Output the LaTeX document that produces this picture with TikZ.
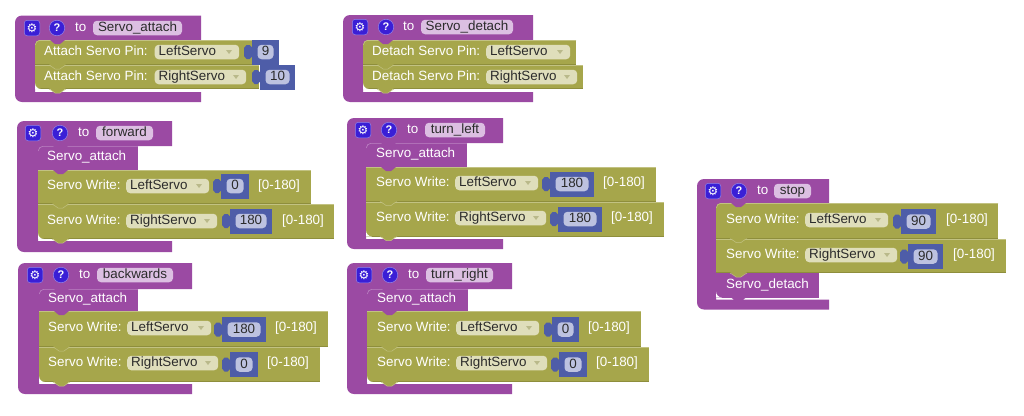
\documentclass[tikz,border=0pt]{standalone}
\usepackage{fontspec}
\setmainfont{Liberation Sans}
\newfontfamily\symfont{DejaVu Sans}
\definecolor{hatc}{HTML}{9B4AA3}
\definecolor{hatl}{HTML}{BC84C3}
\definecolor{rowc}{HTML}{A6A64B}
\definecolor{rowd}{HTML}{8E8E3C}
\definecolor{rowl}{HTML}{C2C282}
\definecolor{bluec}{HTML}{4E5DA8}
\definecolor{dropc}{HTML}{DFDEBB}
\definecolor{arrowc}{HTML}{B9B98A}
\definecolor{namec}{HTML}{DCBFE2}
\definecolor{valc}{HTML}{BDC2E0}
\definecolor{iconc}{HTML}{3A1FD6}
\definecolor{inkc}{HTML}{2B2B2B}
\newcount\nn
\newcommand\nid{\global\advance\nn by 1 }
\tikzset{
 lab/.style={anchor=west,inner sep=0pt,text=white,font=\fontsize{13.4}{15}\selectfont,text height=10pt,text depth=2.5pt},
 fieldbox/.style={anchor=west,inner xsep=4pt,inner ysep=0pt,rounded corners=4pt,minimum height=14.5pt,text=inkc,font=\fontsize{13.4}{15}\selectfont,text height=10pt,text depth=2.5pt,align=left},
 valbox/.style={anchor=center,inner sep=0pt,rounded corners=4pt,minimum height=14.5pt,fill=valc,text=inkc,font=\fontsize{13.4}{15}\selectfont,text height=10pt,text depth=2.5pt,align=center},
 gearbox/.style={inner sep=0pt,minimum size=15.5pt,rounded corners=3pt,fill=iconc,draw=iconc!55!white,line width=.5pt,text=white,font=\symfont\fontsize{12}{12}\selectfont},
 helpbox/.style={circle,inner sep=0pt,minimum size=15.5pt,fill=iconc,draw=iconc!55!white,line width=.5pt,text=white,font=\bfseries\fontsize{11}{11}\selectfont}
}
% x1 x2 xi y1 y2 y3 y4
\newcommand\blockhat[7]{%
 \fill[hatc] (#2,#4) -- (#1+7,#4) to[out=180,in=90] (#1,#4+7) -- (#1,#7-7) to[out=270,in=180] (#1+7,#7) -- (#2,#7) -- (#2,#6)
 -- (#3,#6) -- (#3,#5) -- (#2,#5) -- cycle;}
% gear-x help-x to-x f1 f2 yc name
\newcommand\hdr[7]{%
 \nid\node[gearbox] (n\the\nn) at (#1,#6) {\symbol{"2699}};
 \nid\node[helpbox] (n\the\nn) at (#2,#6) {?};
 \nid\node[lab] (n\the\nn) at (#3,#6) {to};
 \nid\node[fieldbox,fill=namec,minimum width=#5pt-#4pt,inner xsep=0pt,align=center,anchor=center] (n\the\nn) at ({(#4+#5)/2},#6) {#7};}
\newcommand\tabm[3]{\fill[#3] (#1+14,#2-1) -- (#1+18,#2+2.5) -- (#1+20,#2+4) -- (#1+25,#2+4) -- (#1+27,#2+2.5) -- (#1+31,#2-1) -- cycle;}
\newcommand\tabline[3]{\draw[#3,line width=.5pt] (#1+14,#2) -- (#1+18,#2+2.5) -- (#1+20,#2+4) -- (#1+25,#2+4) -- (#1+27,#2+2.5) -- (#1+31,#2);}
% x1 x2 y1 y2 colour
\newcommand\rowbg[5]{%
 \fill[#5] (#1,#3) rectangle (#2,#4);
 \draw[rowl,line width=.5pt] (#1,#3+.3) -- (#2,#3+.3);
 \draw[rowd,line width=.6pt] (#1,#4-.3) -- (#2,#4-.3);
 \tabm{#1}{#4}{#5}\tabline{#1}{#4}{rowl}}
\newcommand\plainrow[4]{%
 \fill[hatc] (#1,#3) rectangle (#2,#4);\tabm{#1}{#4}{hatc}}
% first child: rounded top-left corner with a light edge: x y x-right light-colour
\newcommand\firstc[4]{%
 \fill[hatc] (#1-.2,#2-.2) -- (#1+5,#2-.2) to[out=180,in=90] (#1-.2,#2+5) -- cycle;
 \draw[#4,line width=.6pt] (#3,#2+.3) -- (#1+5,#2+.3) to[out=180,in=90] (#1+.3,#2+5);
 \tabm{#1}{#2}{hatc}}
% last child: rounded bottom-left corner, white behind it: x y
\newcommand\lastc[2]{\fill[white] (#1,#2-6) to[out=-90,in=180] (#1+6,#2) -- (#1,#2) -- cycle;}
\newcommand\rowlab[3]{\nid\node[lab] (n\the\nn) at (#1,#2) {#3};}
% x w yc pin
\newcommand\dropf[4]{%
 \nid\node[fieldbox,fill=dropc,text width=#2pt-8pt,minimum width=#2pt] (n\the\nn) at (#1,#3) {#4};
 \fill[arrowc] (#1+#2-13,#3-2) -- (#1+#2-7,#3-2) -- (#1+#2-10,#3+2) -- cycle;}
% bl br yc val
\newcommand\valb[4]{%
 \fill[bluec] (#1,#3-12.5) rectangle (#2,#3+12.5);
 \fill[bluec] (#1+.5,#3-4) -- (#1-2.5,#3-7) -- (#1-5.5,#3-7) -- (#1-8,#3-4) -- (#1-8,#3+4) -- (#1-5.5,#3+7) -- (#1-2.5,#3+7) -- (#1+.5,#3+4) -- cycle;
 \nid\node[valbox,minimum width=#2pt-#1pt-11pt] (n\the\nn) at ({(#1+#2)/2},#3) {#4};}
\newcommand\rng[2]{\nid\node[lab] (n\the\nn) at (#1,#2) {[0-180]};}
\begin{document}
\begin{tikzpicture}[x=1pt,y=-1pt]
\useasboundingbox (0,0) rectangle (1024,415);
% ---------- Servo_attach
\blockhat{15}{201}{35}{15.5}{40}{92}{102}
\rowbg{35}{259}{65}{89}{rowc}
\rowbg{35}{252}{40}{65}{rowc}
\firstc{35}{40}{252}{rowl}
\lastc{35}{89}
\hdr{32}{57}{75}{93}{182}{28}{Servo\_attach}
\rowlab{44}{52}{Attach Servo Pin:}
\dropf{154.5}{84.5}{52}{LeftServo}
\valb{252}{279}{52}{9}
\rowlab{44}{77}{Attach Servo Pin:}
\dropf{154.5}{91.5}{77}{RightServo}
\valb{260}{295}{77}{10}
% ---------- Servo_detach
\blockhat{343}{533}{363}{15}{40}{92}{102}
\rowbg{363}{583}{65}{89}{rowc}
\rowbg{363}{576}{40}{65}{rowc}
\firstc{363}{40}{576}{rowl}
\lastc{363}{89}
\hdr{360}{386}{403}{421}{513}{27}{Servo\_detach}
\rowlab{372}{52}{Detach Servo Pin:}
\dropf{486}{84}{52}{LeftServo}
\rowlab{372}{77}{Detach Servo Pin:}
\dropf{486}{91}{77}{RightServo}
% ---------- forward
\blockhat{17}{172}{38}{121}{146}{241}{252}
\rowbg{38}{334}{204}{239}{rowc}
\rowbg{38}{311}{170}{204}{rowc}
\plainrow{38}{138}{146}{170}
\firstc{38}{146}{138}{hatl}
\lastc{38}{239}
\hdr{33}{60}{78}{96}{153}{133}{forward}
\rowlab{47}{157}{Servo\_attach}
\rowlab{47}{186}{Servo Write:}
\dropf{126}{83}{186}{LeftServo}
\valb{221}{249}{186}{0}
\rng{258}{186}
\rowlab{47}{221}{Servo Write:}
\dropf{126}{91}{221}{RightServo}
\valb{230}{272}{221}{180}
\rng{282}{221}
% ---------- turn_left
\blockhat{347}{503}{366}{118}{143}{239}{249}
\rowbg{366}{664}{201.5}{236.5}{rowc}
\rowbg{366}{656}{167}{201.5}{rowc}
\plainrow{366}{467}{143}{167}
\firstc{366}{143}{467}{hatl}
\lastc{366}{236.5}
\hdr{363}{389}{407}{425}{485}{130}{turn\_left}
\rowlab{376}{154}{Servo\_attach}
\rowlab{376}{183}{Servo Write:}
\dropf{455}{83}{183}{LeftServo}
\valb{550}{594}{184}{180}
\rng{603}{183}
\rowlab{376}{218}{Servo Write:}
\dropf{455}{91}{218}{RightServo}
\valb{558}{602}{219}{180}
\rng{611}{218}
% ---------- backwards
\blockhat{18}{192}{39}{263}{289}{384}{394}
\rowbg{39}{320}{347}{382}{rowc}
\rowbg{39}{328}{311}{347}{rowc}
\plainrow{39}{138}{289}{311}
\firstc{39}{289}{138}{hatl}
\lastc{39}{382}
\hdr{35}{61}{79}{97}{173}{275}{backwards}
\rowlab{48}{299}{Servo\_attach}
\rowlab{48}{328}{Servo Write:}
\dropf{127}{84}{328}{LeftServo}
\valb{222}{266}{329.5}{180}
\rng{275}{328}
\rowlab{48}{363}{Servo Write:}
\dropf{127}{91}{363}{RightServo}
\valb{230}{258}{364.5}{0}
\rng{267}{363}
% ---------- turn_right
\blockhat{347}{512}{367}{263}{289}{384}{394}
\rowbg{367}{649}{347}{382}{rowc}
\rowbg{367}{641}{311}{347}{rowc}
\plainrow{367}{468}{289}{311}
\firstc{367}{289}{468}{hatl}
\lastc{367}{382}
\hdr{364}{390}{408}{426}{493}{275}{turn\_right}
\rowlab{377}{299}{Servo\_attach}
\rowlab{377}{328}{Servo Write:}
\dropf{456}{83}{328}{LeftServo}
\valb{552}{579}{329.5}{0}
\rng{588}{328}
\rowlab{377}{363}{Servo Write:}
\dropf{456}{91}{363}{RightServo}
\valb{559}{587}{364.5}{0}
\rng{596}{363}
% ---------- stop
\blockhat{697}{829}{716}{179}{203}{299.5}{309.5}
\plainrow{716}{819}{273}{297.5}
\rowbg{716}{1006}{238.5}{273}{rowc}
\rowbg{716}{998}{203}{238.5}{rowc}
\firstc{716}{203}{998}{rowl}
\lastc{716}{297.5}
\hdr{713}{739}{757}{774}{811}{191}{stop}
\rowlab{726}{220}{Servo Write:}
\dropf{805}{83}{220}{LeftServo}
\valb{901}{936}{221.5}{90}
\rng{946}{220}
\rowlab{726}{255}{Servo Write:}
\dropf{805}{92}{255}{RightServo}
\valb{908}{943}{256.5}{90}
\rng{953}{255}
\rowlab{726}{285}{Servo\_detach}
\end{tikzpicture}
\end{document}
